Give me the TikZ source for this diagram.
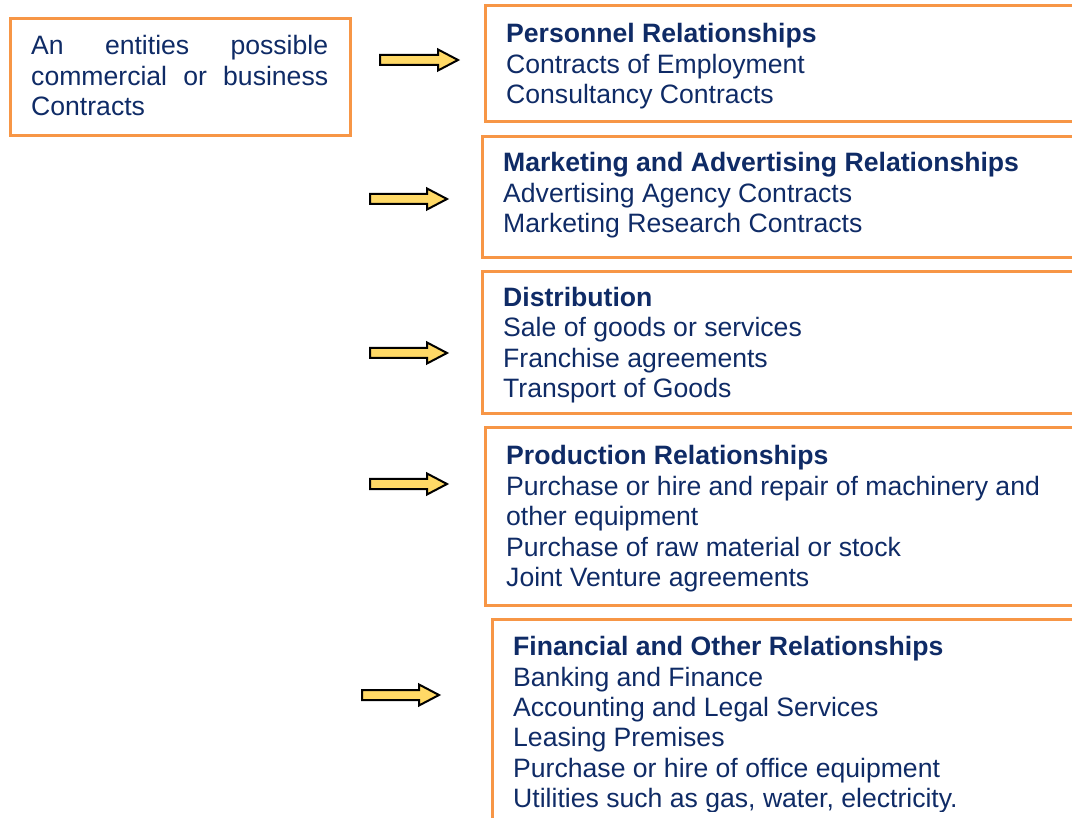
\documentclass[tikz,border=0pt]{standalone}
\usepackage{fontspec}
\setmainfont{Liberation Sans}
\definecolor{navy}{HTML}{0F2B66}
\definecolor{boxorange}{HTML}{F79646}
\definecolor{arrowyellow}{HTML}{FFD966}
\begin{document}
\begin{tikzpicture}[x=1pt,y=-1pt,
  box/.style={draw=boxorange,line width=3pt},
  txt/.style={anchor=base west,inner sep=0pt,text=navy,font=\fontsize{26.6}{30.5}\selectfont},
  ttl/.style={txt,font=\fontsize{26.6}{30.5}\selectfont\bfseries},
  arr/.style={draw=black,fill=arrowyellow,line width=2pt,line join=miter}]
\useasboundingbox (0,0) rectangle (1072,818);
\clip (0,0) rectangle (1072,818);
% boxes
\draw[box] (10,19) rectangle (350,136);
\draw[box] (485,6) rectangle (1090,122);
\draw[box] (482,137) rectangle (1090,258);
\draw[box] (482,272) rectangle (1090,414);
\draw[box] (485,428) rectangle (1090,605);
\draw[box] (492,619) rectangle (1090,840);
% arrows
\newcommand{\yarrow}[3]{% x0, x1, yc
  \draw[arr] (#1,#3-5) -- (#2-20,#3-5) -- (#2-20,#3-10.5) -- (#2,#3) -- (#2-20,#3+10.5) -- (#2-20,#3+5) -- (#1,#3+5) -- cycle;}
\yarrow{380}{458}{60}
\yarrow{370}{447}{199}
\yarrow{370}{447}{353}
\yarrow{370}{447}{484}
\yarrow{362}{439}{695}
% left box text
\node[txt] (l1) at (31,55) {\makebox[297pt][s]{An entities possible}};
\node[txt] (l2) at (31,85.5) {\makebox[297pt][s]{commercial or business}};
\node[txt] (l3) at (31,116) {Contracts};
% box 1
\node[ttl] (a0) at (506,43) {Personnel Relationships};
\node[txt] (a1) at (506,73.5) {Contracts of Employment};
\node[txt] (a2) at (506,104) {Consultancy Contracts};
% box 2
\node[ttl] (b0) at (503,172) {Marketing and Advertising Relationships};
\node[txt] (b1) at (503,202.5) {Advertising Agency Contracts};
\node[txt] (b2) at (503,233) {Marketing Research Contracts};
% box 3
\node[ttl] (c0) at (503,306.5) {Distribution};
\node[txt] (c1) at (503,337) {Sale of goods or services};
\node[txt] (c2) at (503,367.5) {Franchise agreements};
\node[txt] (c3) at (503,398) {Transport of Goods};
% box 4
\node[ttl] (d0) at (506,464.5) {Production Relationships};
\node[txt] (d1) at (506,495) {Purchase or hire and repair of machinery and};
\node[txt] (d2) at (506,525.5) {other equipment};
\node[txt] (d3) at (506,556) {Purchase of raw material or stock};
\node[txt] (d4) at (506,586.5) {Joint Venture agreements};
% box 5
\node[ttl] (e0) at (513,655.5) {Financial and Other Relationships};
\node[txt] (e1) at (513,686) {Banking and Finance};
\node[txt] (e2) at (513,716) {Accounting and Legal Services};
\node[txt] (e3) at (513,746.5) {Leasing Premises};
\node[txt] (e4) at (513,777) {Purchase or hire of office equipment};
\begin{scope}
\clip (0,0) rectangle (1072,811);
\node[txt] (e5) at (513,807.5) {Utilities such as gas, water, electricity.};
\end{scope}
\end{tikzpicture}
\end{document}
